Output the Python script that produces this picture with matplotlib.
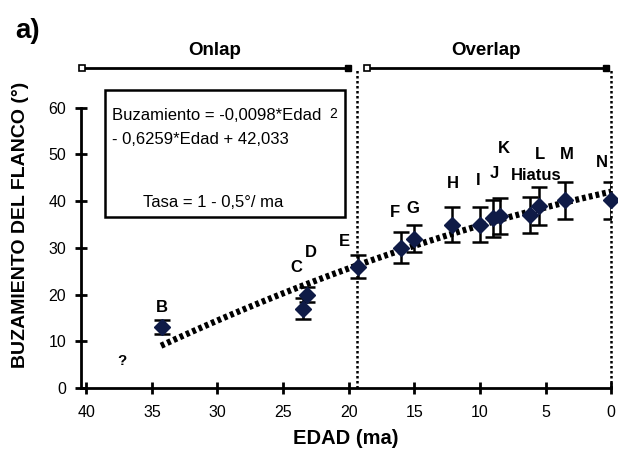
import numpy as np
import matplotlib.pyplot as plt
from matplotlib.patches import Rectangle

plt.rcParams['font.family'] = ['Liberation Sans', 'DejaVu Sans']

# data
names = ["B", "C", "D", "E", "F", "G", "H", "I", "J", "K", "Hiatus", "L", "M", "N"]
edad = [34.2, 23.5, 23.2, 19.3, 16.0, 15.0, 12.1, 10.0, 9.0, 8.5, 6.2, 5.5, 3.5, 0.0]
buz = [13.0, 17.0, 20.0, 26.0, 30.0, 32.0, 35.0, 35.0, 36.3, 36.8, 37.0, 39.0, 40.2, 40.2]
err = [1.5, 2.2, 1.6, 2.5, 3.3, 2.8, 3.8, 3.8, 3.9, 3.8, 3.8, 4.0, 4.0, 4.0]

# label positions for the letters
lab_x = [34.2, 24.0, 22.9, 20.3, 16.5, 15.1, 12.1, 10.1, 8.9, 8.2, 5.7, 5.4, 3.4, 0.7]
lab_y = [17.3, 25.7, 28.9, 31.3, 37.5, 38.5, 43.7, 44.5, 46.0, 51.2, 45.6, 49.9, 49.9, 48.2]

# fitted trend
coef = [-0.0098, -0.6259, 42.033]
x_fit = np.linspace(34.3, 0, 100)
y_fit = np.polyval(coef, x_fit)

limite = 19.34
onlap = [40.35, 20.05]
overlap = [18.62, 0.4]
y_barra = 68.5

fig = plt.figure(figsize=(6.18, 4.49), dpi=100)
ax = fig.add_axes([0.131, 0.136, 0.858, 0.728])

ax.plot(x_fit, y_fit, color='black', lw=4.5, linestyle=(0, (0.6, 0.5)), zorder=2)
ax.errorbar(edad, buz, yerr=err, fmt='none', ecolor='black', elinewidth=1.8,
            capsize=6, capthick=1.8, zorder=3)
ax.plot(edad, buz, 'D', color='#0f1b47', markersize=8, zorder=4, clip_on=False)

for n, lx, ly in zip(names, lab_x, lab_y):
    ax.text(lx, ly, n, ha='center', va='center', fontsize=12, fontweight='bold')
ax.text(37.3, 5.8, "?", ha='center', va='center', fontsize=11, fontweight='bold')

# limits of onlap / overlap
for xv in [limite, 0]:
    ax.plot([xv, xv], [0, y_barra], color='black', lw=1.8, linestyle=(0, (1, 1)),
            clip_on=False, zorder=1)

for seg, txt in [(onlap, "Onlap"), (overlap, "Overlap")]:
    ax.plot(seg, [y_barra, y_barra], color='black', lw=2, clip_on=False)
    ax.plot(seg[0], y_barra, 's', mfc='white', mec='black', ms=4.5, mew=1.2, clip_on=False)
    ax.plot(seg[1], y_barra, 's', color='black', ms=5, clip_on=False)
    ax.text(np.mean(seg), y_barra + 3.7, txt, ha='center', va='center',
            fontsize=13.5, fontweight='bold')

# equation box
ax.add_patch(Rectangle((0.045, 0.523), 0.453, 0.389, transform=ax.transAxes,
                       fill=False, edgecolor='black', lw=1.8))
ax.text(0.058, 0.832, "Buzamiento = -0,0098*Edad", transform=ax.transAxes,
        fontsize=12, va='center', ha='left')
ax.text(0.468, 0.838, "2", transform=ax.transAxes, fontsize=10, va='center', ha='left')
ax.text(0.058, 0.759, "- 0,6259*Edad + 42,033", transform=ax.transAxes,
        fontsize=12, va='center', ha='left')
ax.text(0.249, 0.566, "Tasa = 1 - 0,5°/ ma", transform=ax.transAxes,
        fontsize=12, va='center', ha='center')

ax.set_xlim(40.4, 0)
ax.set_ylim(0, 70)
ax.set_xticks([40, 35, 30, 25, 20, 15, 10, 5, 0])
ax.set_yticks([0, 10, 20, 30, 40, 50, 60])
ax.spines['top'].set_visible(False)
ax.spines['right'].set_visible(False)
ax.spines['left'].set_bounds(0, 60)
ax.spines['left'].set_linewidth(2)
ax.spines['bottom'].set_linewidth(2)
ax.tick_params(direction='inout', length=9, width=2, labelsize=11.5)
ax.tick_params(axis='x', pad=8)
ax.tick_params(axis='y', pad=6)

ax.set_xlabel("EDAD (ma)", fontsize=14.5, fontweight='bold', labelpad=6)
ax.set_ylabel("BUZAMIENTO DEL FLANCO (°)", fontsize=14, fontweight='bold', labelpad=14)
fig.text(0.024, 0.931, "a)", fontsize=20, fontweight='bold', ha='left', va='center')

fig.savefig("out.png", dpi=100)
